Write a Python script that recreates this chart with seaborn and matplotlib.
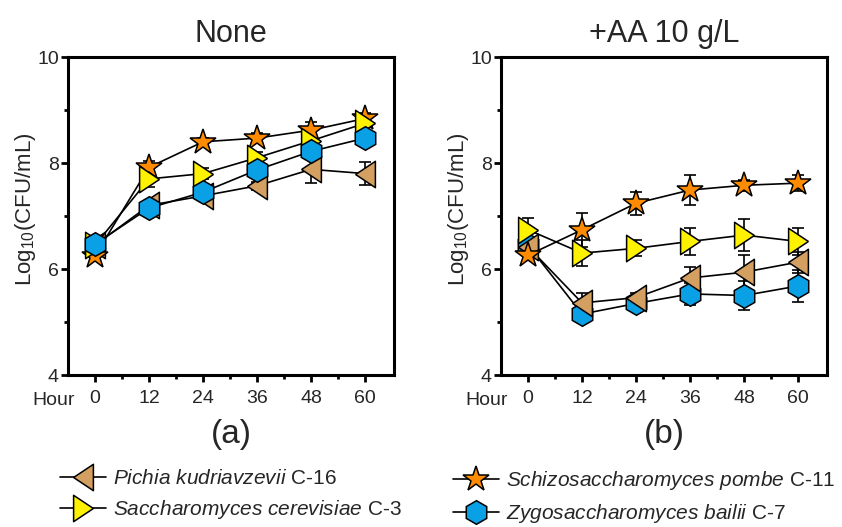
import numpy as np
import pandas as pd
import matplotlib
matplotlib.use("Agg")
import matplotlib.pyplot as plt
from matplotlib.lines import Line2D
from matplotlib.ticker import MultipleLocator
import seaborn as sns

# ---------------- data ----------------
hours = [0, 12, 24, 36, 48, 60]

species = ["Pichia kudriavzevii", "Saccharomyces cerevisiae",
           "Schizosaccharomyces pombe", "Zygosaccharomyces bailii"]
strains = ["C-16", "C-3", "C-11", "C-7"]

# panel (a) None
pk_none = [6.45, 7.20, 7.38, 7.57, 7.88, 7.80]
pk_none_err = [0.05, 0.08, 0.08, 0.08, 0.26, 0.22]
sc_none = [6.45, 7.70, 7.80, 8.10, 8.42, 8.75]
sc_none_err = [0.05, 0.15, 0.10, 0.10, 0.12, 0.08]
sp_none = [6.25, 7.92, 8.40, 8.47, 8.62, 8.84]
sp_none_err = [0.05, 0.12, 0.08, 0.10, 0.15, 0.10]
zb_none = [6.47, 7.15, 7.45, 7.87, 8.22, 8.47]
zb_none_err = [0.05, 0.10, 0.10, 0.10, 0.10, 0.10]

# panel (b) +AA 10 g/L
pk_aa = [6.42, 5.36, 5.46, 5.83, 5.94, 6.13]
pk_aa_err = [0.05, 0.18, 0.08, 0.20, 0.32, 0.20]
sc_aa = [6.74, 6.30, 6.39, 6.52, 6.64, 6.52]
sc_aa_err = [0.22, 0.25, 0.15, 0.25, 0.30, 0.25]
sp_aa = [6.26, 6.74, 7.24, 7.49, 7.58, 7.62]
sp_aa_err = [0.05, 0.32, 0.22, 0.28, 0.10, 0.15]
zb_aa = [6.45, 5.15, 5.35, 5.53, 5.50, 5.68]
zb_aa_err = [0.05, 0.10, 0.10, 0.20, 0.27, 0.30]

titles = ["None", "+AA 10 g/L"]
panel_labels = ["(a)", "(b)"]

# ---------------- styles ----------------
colors = {species[0]: "#D4A062", species[1]: "#FFF200",
          species[2]: "#FF8C00", species[3]: "#0AA0E6"}
tri_left = [(-0.75, 0.0), (0.75, 1.0), (0.75, -1.0), (-0.75, 0.0)]
tri_right = [(0.75, 0.0), (-0.75, 1.0), (-0.75, -1.0), (0.75, 0.0)]
markers = {species[0]: tri_left, species[1]: tri_right,
           species[2]: "*", species[3]: "h"}
msizes = {species[0]: 19, species[1]: 19, species[2]: 19, species[3]: 17}

sns.set_theme(style="ticks")
plt.rcParams["font.family"] = ["Liberation Sans", "DejaVu Sans"]
plt.rcParams["mathtext.fontset"] = "custom"
plt.rcParams["mathtext.rm"] = "Liberation Sans"
plt.rcParams["mathtext.it"] = "Liberation Sans:italic"
plt.rcParams["mathtext.bf"] = "Liberation Sans:bold"

def make_df(vals, errs):
    rows = []
    for sp, v, e in zip(species, vals, errs):
        for h, y, ee in zip(hours, v, e):
            rows.append({"hour": h, "cfu": y, "err": ee, "species": sp})
    return pd.DataFrame(rows)

df_none = make_df([pk_none, sc_none, sp_none, zb_none],
                  [pk_none_err, sc_none_err, sp_none_err, zb_none_err])
df_aa = make_df([pk_aa, sc_aa, sp_aa, zb_aa],
                [pk_aa_err, sc_aa_err, sp_aa_err, zb_aa_err])

orders = [[species[0], species[2], species[1], species[3]],
          [species[3], species[0], species[2], species[1]]]

fig = plt.figure(figsize=(8.42, 5.27), dpi=100)
ax_w = 326 / 842
ax_h = 318 / 527
axes = [fig.add_axes([68 / 842, 1 - 375 / 527, ax_w, ax_h]),
        fig.add_axes([501 / 842, 1 - 375 / 527, ax_w, ax_h])]

for ax, df, title, plab, order in zip(axes, [df_none, df_aa], titles,
                                      panel_labels, orders):
    for sp in order:
        sub = df[df["species"] == sp]
        ax.errorbar(sub["hour"], sub["cfu"], yerr=sub["err"], fmt="none",
                    ecolor="black", elinewidth=1.2, capsize=4.5,
                    capthick=1.2, zorder=1.5)
        sns.lineplot(data=sub, x="hour", y="cfu", ax=ax, color="black",
                     linewidth=1.2, marker=markers[sp],
                     markersize=msizes[sp], markerfacecolor=colors[sp],
                     markeredgecolor="black", markeredgewidth=1.1,
                     errorbar=None, legend=False, zorder=2)
    ax.set_xlim(-6, 66.4)
    ax.set_ylim(4, 10)
    ax.set_xticks(hours)
    ax.set_xticks([6, 18, 30, 42, 54], minor=True)
    ax.set_yticks([4, 6, 8, 10])
    ax.yaxis.set_minor_locator(MultipleLocator(1))
    for s in ax.spines.values():
        s.set_linewidth(2.2)
        s.set_color("black")
        s.set_visible(True)
    ax.tick_params(axis="both", which="major", direction="out", length=5,
                   width=2, labelsize=14, color="black")
    ax.tick_params(axis="x", which="major", pad=6)
    ax.tick_params(axis="y", which="major", pad=1.5)
    ax.tick_params(axis="both", which="minor", direction="out", length=3,
                   width=2, color="black")
    ax.set_xlabel("")
    ax.set_ylabel("Log$_{10}$(CFU/mL)", fontsize=16, va="center")
    ax.yaxis.set_label_coords(-0.13, 0.52)
    ax.set_title(title, fontsize=22, pad=11)
    ax.text(-9.1, -0.054, "Hour", transform=ax.get_xaxis_transform(),
            ha="center", va="top", fontsize=14)
    ax.text(0.5, -0.186, plab, transform=ax.transAxes, ha="center",
            va="center", fontsize=24)
    ax.grid(False)

def handle(sp):
    return Line2D([], [], color="black", linewidth=1.2, marker=markers[sp],
                  markersize=msizes[sp], markerfacecolor=colors[sp],
                  markeredgecolor="black", markeredgewidth=1.1)

def label(i):
    name = species[i].replace(" ", r"\ ")
    return r"$\it{" + name + "}$ " + strains[i]

leg_kw = dict(loc="upper left", frameon=False, fontsize=15,
              handlelength=2.2, handletextpad=0.33, borderpad=0,
              borderaxespad=0, labelspacing=0.5)
leg1 = fig.legend(handles=[handle(species[0]), handle(species[1])],
                  labels=[label(0), label(1)],
                  bbox_to_anchor=(60 / 842, 1 - 469 / 527), **leg_kw)
leg2 = fig.legend(handles=[handle(species[2]), handle(species[3])],
                  labels=[label(2), label(3)],
                  bbox_to_anchor=(453 / 842, 1 - 469 / 527), **leg_kw)

fig.savefig("out.png", dpi=100)
